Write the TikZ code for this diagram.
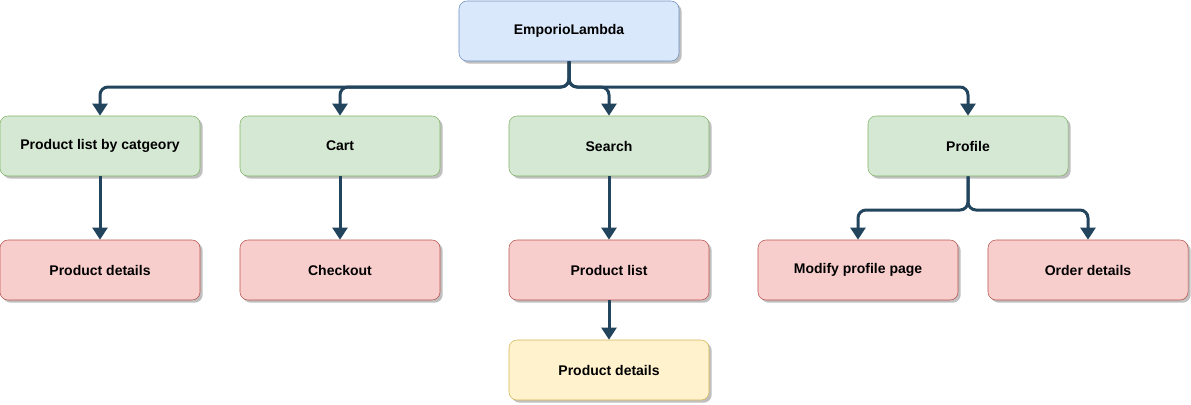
\documentclass[tikz,border=0pt]{standalone}
\usepackage{fontspec}
\setmainfont{Liberation Sans}
\usepackage{xcolor}
\usetikzlibrary{arrows.meta,positioning,shadows}

\definecolor{rootfill}{HTML}{DAE8FC}
\definecolor{rootdraw}{HTML}{6C8EBF}
\definecolor{secfill}{HTML}{D5E8D4}
\definecolor{secdraw}{HTML}{82B366}
\definecolor{pagefill}{HTML}{F8CECC}
\definecolor{pagedraw}{HTML}{B85450}
\definecolor{subfill}{HTML}{FFF2CC}
\definecolor{subdraw}{HTML}{D6B656}
\definecolor{linkcol}{HTML}{23445D}

\begin{document}
\begin{tikzpicture}[x=0.75pt,y=-0.75pt,font=\fontsize{10.5}{12}\selectfont\bfseries,
  box/.style={draw,rounded corners=6pt,minimum width=150pt,minimum height=45pt,align=center,
    drop shadow={shadow xshift=2pt,shadow yshift=-2pt,opacity=0.25,fill=black}},
  root/.style={box,fill=rootfill,draw=rootdraw,minimum width=165pt},
  sec/.style={box,fill=secfill,draw=secdraw},
  page/.style={box,fill=pagefill,draw=pagedraw},
  sub/.style={box,fill=subfill,draw=subdraw},
  conn/.style={draw=linkcol,line width=2.25pt,rounded corners=6pt,
    -{Triangle[width=11pt,length=9pt]}}]
\useasboundingbox (0,0) rectangle (1191,404);
\node[root] (shop) at (569,31) {EmporioLambda};
% first level
\node[sec] (bycat)   at (100,146) {Product list by catgeory};
\node[sec] (cart)    at (340,146) {Cart};
\node[sec] (search)  at (609,146) {Search};
\node[sec] (profile) at (968,146) {Profile};
% second level
\node[page] (catdet)   at (100,270) {Product details};
\node[page] (checkout) at (340,270) {Checkout};
\node[page] (reslist)  at (609,270) {Product list};
\node[page] (modprof)  at (858,270) {Modify profile page};
\node[page] (orders)   at (1088,270) {Order details};
\node[sub] (resdet) at (609,370) {Product details};
% connectors
\coordinate (shopjoin) at (569,87);
\coordinate (profjoin) at (968,210);
\foreach \t in {bycat,cart,search,profile}
  \draw[conn] (shop.south) -- (shopjoin) -| (\t.north);
\foreach \t in {modprof,orders}
  \draw[conn] (profile.south) -- (profjoin) -| (\t.north);
\draw[conn] (bycat) -- (catdet);
\draw[conn] (cart) -- (checkout);
\draw[conn] (search) -- (reslist);
\draw[conn] (reslist) -- (resdet);
\end{tikzpicture}
\end{document}
